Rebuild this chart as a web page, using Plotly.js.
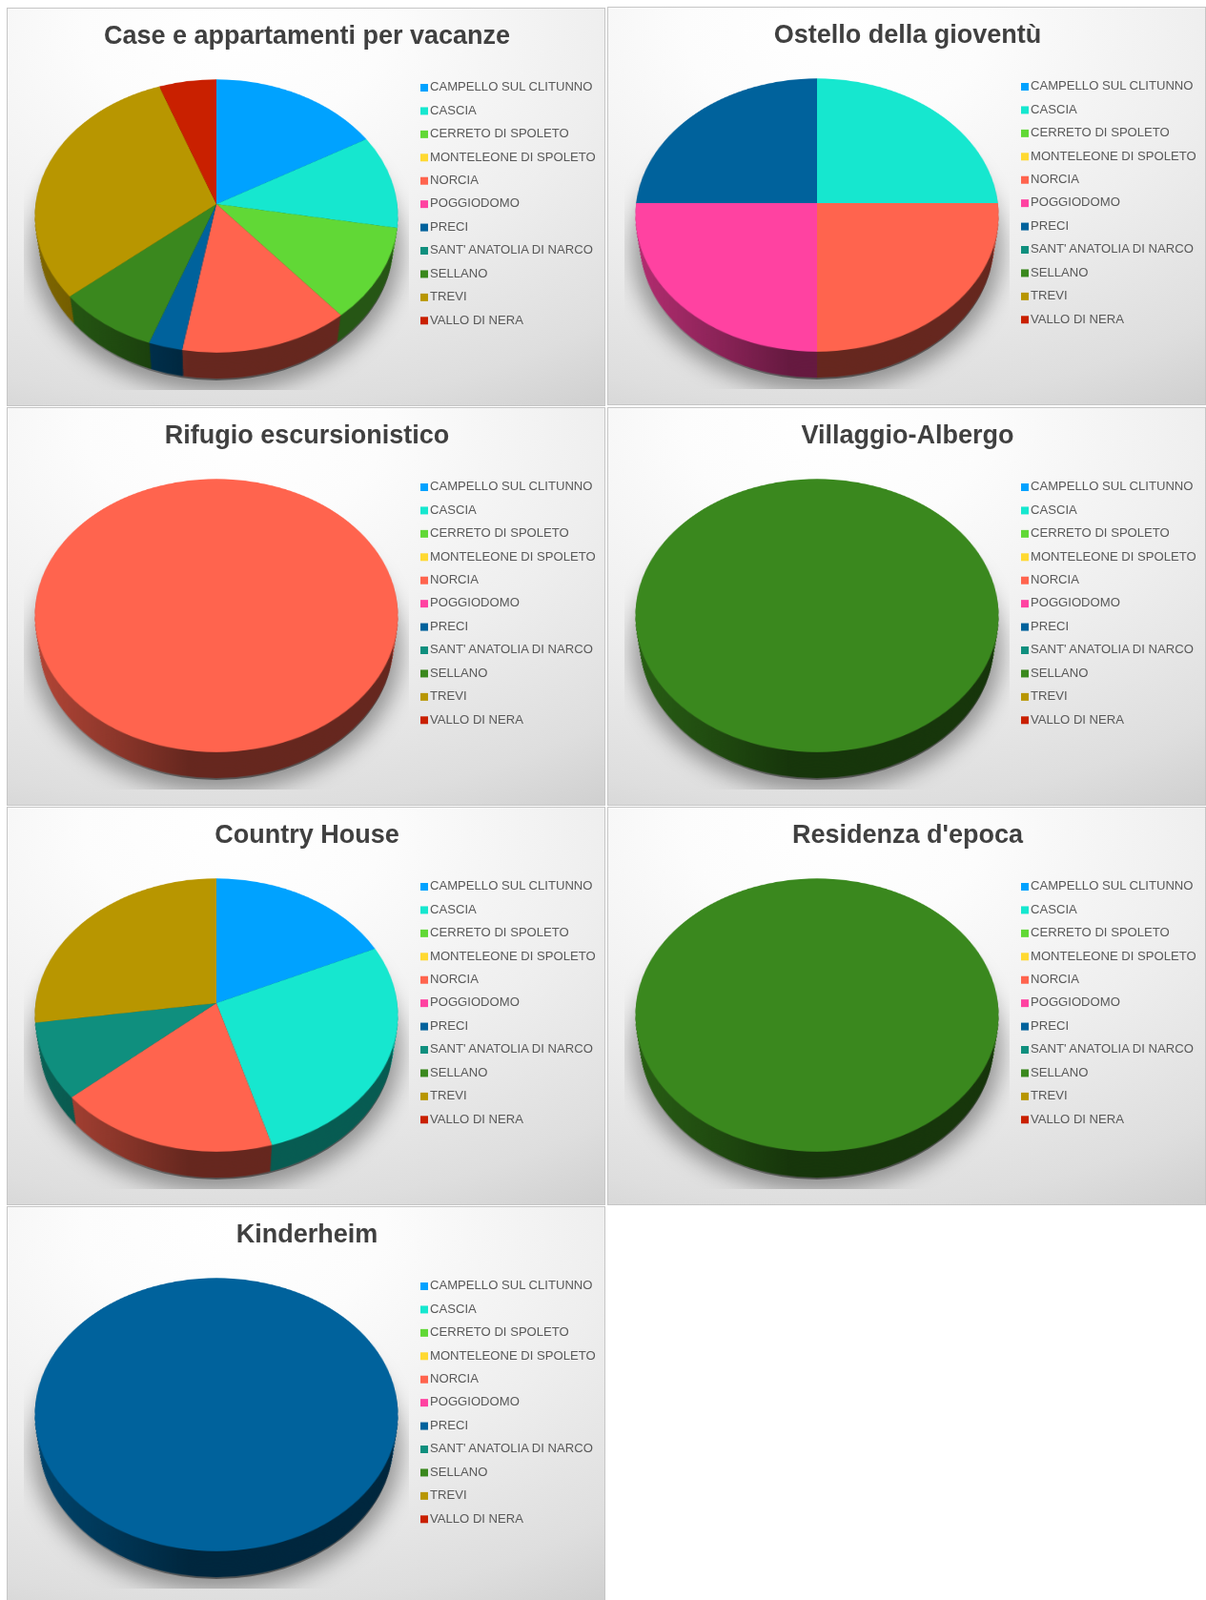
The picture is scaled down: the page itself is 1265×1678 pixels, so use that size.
<!DOCTYPE html>
<html>
<head>
<meta charset="utf-8">
<script src="https://cdn.plot.ly/plotly-3.0.1.min.js"></script>
<style>
html,body{margin:0;padding:0;background:#fff;overflow:hidden;width:1265px;height:1678px}
#page{position:relative;width:1265px;height:1678px;overflow:hidden}
.panel{position:absolute;width:628px;height:418px;box-sizing:border-box;border:1px solid #c6c6c6;
 background:radial-gradient(ellipse 115% 112% at 38% 5%,#ffffff 0%,#fcfcfc 22%,#eeeeee 55%,#dedede 85%,#d0d0d0 100%);overflow:hidden}
.abs{position:absolute}
</style>
</head>
<body>
<div id="page"></div>
<script>
// ---------- data ----------
const categories = ["CAMPELLO SUL CLITUNNO","CASCIA","CERRETO DI SPOLETO","MONTELEONE DI SPOLETO","NORCIA","POGGIODOMO","PRECI","SANT' ANATOLIA DI NARCO","SELLANO","TREVI","VALLO DI NERA"];
const colors = ["#00A2FF","#16E7CF","#61D836","#FFD932","#FF644E","#FF42A1","#00629C","#0F8F7E","#3A881E","#B89600","#C92000"];
const titles = ["Case e appartamenti per vacanze","Ostello della gioventù","Rifugio escursionistico","Villaggio-Albergo","Country House","Residenza d'epoca","Kinderheim"];
const caseVacanze  = [6,4,4,0,5,0,1,0,3,11,2];
const ostello      = [0,1,0,0,1,1,1,0,0,0,0];
const rifugio      = [0,0,0,0,1,0,0,0,0,0,0];
const villaggio    = [0,0,0,0,0,0,0,0,1,0,0];
const countryHouse = [2,3,0,0,2,0,0,1,0,3,0];
const residenza    = [0,0,0,0,0,0,0,0,1,0,0];
const kinderheim   = [0,0,0,0,0,0,1,0,0,0,0];
const seriesList = [caseVacanze,ostello,rifugio,villaggio,countryHouse,residenza,kinderheim];

// ---------- geometry ----------
const R = 190, DIVH = 430, LAYERS = 22, DEPTH = 38, SHRINK = 8;
const A = 0.748, B = 0.998, C = -0.000462;
const persp = `matrix3d(${B},0,0,0, 0,${A},0,${C}, 0,0,1,0, 0,0,0,1)`;
const cfg = {staticPlot:true, displayModeBar:false};
const page = document.getElementById('page');

function shade(hex,f){
  const n = parseInt(hex.slice(1),16);
  return `rgb(${Math.round((n>>16&255)*f)},${Math.round((n>>8&255)*f)},${Math.round((n&255)*f)})`;
}
function pie(values,cols,r,s){
  return {type:'pie',labels:categories,values:values,sort:false,direction:'clockwise',rotation:0,
    textinfo:'none',hoverinfo:'skip',showlegend:false,
    marker:{colors:cols,line:{width:0}},
    domain:{x:[(R-r)/(2*R),(R+r)/(2*R)],y:[1-(R+s+r)/DIVH,1-(R+s-r)/DIVH]}};
}
function layoutBase(){return {width:2*R,height:DIVH,margin:{l:0,r:0,t:0,b:0,pad:0},paper_bgcolor:'rgba(0,0,0,0)',plot_bgcolor:'rgba(0,0,0,0)',showlegend:false};}

seriesList.forEach((vals,i)=>{
  const col = i%2, row = Math.floor(i/2);
  const p = document.createElement('div');
  p.className='panel';
  p.style.left=(col?637:7)+'px';
  p.style.top=(8+row*419-((col&&row===0)?1:0))+'px';
  page.appendChild(p);

  // soft shadow beneath the pie
  const shClip = document.createElement('div');
  shClip.className='abs';
  shClip.style.cssText='left:17px;top:130px;width:404px;height:270px;overflow:hidden';
  const sh = document.createElement('div');
  sh.className='abs';
  sh.style.cssText='left:8px;top:-25px;width:388px;height:297px;border-radius:50%;background:rgba(0,0,0,.36);filter:blur(11px)';
  shClip.appendChild(sh); p.appendChild(shClip);

  // extruded wall
  const sideDiv = document.createElement('div');
  sideDiv.className='abs';
  sideDiv.style.cssText=`left:29px;top:15px;width:${2*R}px;height:${DIVH}px;transform-origin:${R}px ${R}px;transform:${persp}`;
  p.appendChild(sideDiv);
  const sideCols = colors.map(c=>shade(c,0.7));
  const traces=[];
  for(let k=LAYERS;k>=1;k--){
    const t=k/LAYERS;
    traces.push(pie(vals,sideCols,R-SHRINK*t,DEPTH*t));
  }
  Plotly.newPlot(sideDiv,traces,layoutBase(),cfg);

  // wall shading, left lit to right dark
  const shade1 = document.createElement('div');
  shade1.className='abs';
  const cx=219, cy1=219.5, cy2=247.5;
  shade1.style.cssText=`left:0;top:0;width:628px;height:418px;
    background:linear-gradient(90deg,rgba(0,0,0,0) 30px,rgba(0,0,0,.26) 130px,rgba(0,0,0,.43) 190px,rgba(0,0,0,.43) 628px);
    clip-path:path('M${cx-189} ${cy1} A189 141.5 0 0 1 ${cx+189} ${cy1} A189 141.5 0 0 1 ${cx-189} ${cy1} Z M${cx-185.5} ${cy2} A185.5 142.5 0 0 1 ${cx+185.5} ${cy2} A185.5 142.5 0 0 1 ${cx-185.5} ${cy2} Z M${cx-189} ${cy1} L${cx+189} ${cy1} L${cx+185.5} ${cy2} L${cx-185.5} ${cy2} Z')`;
  p.appendChild(shade1);

  // top face
  const topDiv = document.createElement('div');
  topDiv.className='abs';
  topDiv.style.cssText=`left:29px;top:15px;width:${2*R}px;height:${DIVH}px;transform-origin:${R}px ${R}px;transform:${persp}`;
  p.appendChild(topDiv);
  Plotly.newPlot(topDiv,[pie(vals,colors,R,0)],layoutBase(),cfg);

  // title + legend
  const txt = document.createElement('div');
  txt.className='abs';
  txt.style.cssText='left:0;top:0;width:628px;height:418px';
  p.appendChild(txt);
  const step=24.43, first=83;
  Plotly.newPlot(txt,[{
    type:'scatter',mode:'markers+text',cliponaxis:false,hoverinfo:'skip',
    x:categories.map(()=>437),
    y:categories.map((c,j)=>j),
    text:categories,
    textposition:'middle right',
    textfont:{family:'"Liberation Sans",Arial,sans-serif',size:13.1,color:'#595959'},
    marker:{symbol:'square',size:8,color:colors,line:{width:0}}
  }],{
    width:628,height:418,margin:{l:0,r:0,t:0,b:0,pad:0},
    paper_bgcolor:'rgba(0,0,0,0)',plot_bgcolor:'rgba(0,0,0,0)',showlegend:false,
    title:{text:titles[i],x:0.5,xanchor:'center',y:1-28/418,yanchor:'middle',
      font:{family:'"Liberation Sans",Arial,sans-serif',size:27,weight:'bold',color:'#404040'}},
    xaxis:{visible:false,range:[0,628],fixedrange:true},
    yaxis:{visible:false,range:[(418-first)/step,-first/step],fixedrange:true}
  },cfg);
});
</script>
</body>
</html>
